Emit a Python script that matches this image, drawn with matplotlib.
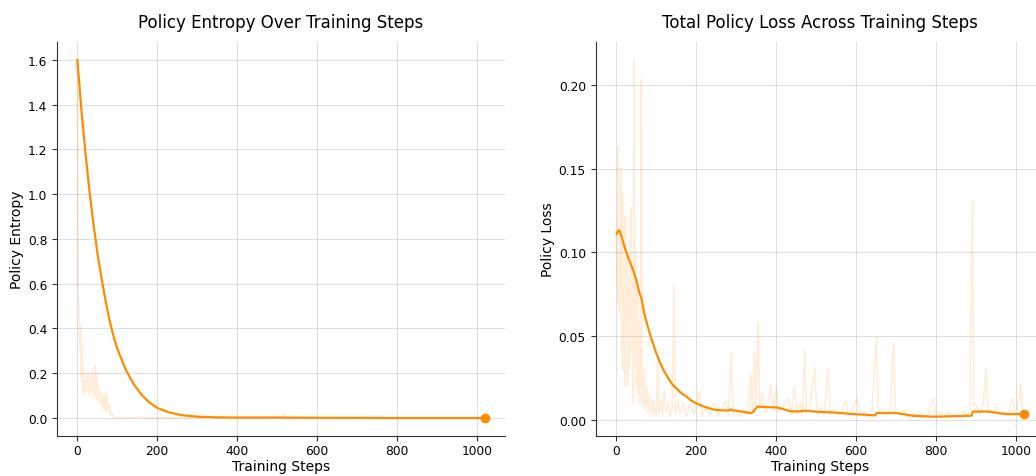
import matplotlib
matplotlib.use('Agg')
import matplotlib.pyplot as plt

# ---- policy entropy: raw (faint) and smoothed values ----
entropy_raw_steps = [0, 1, 2, 3, 4, 5, 6, 7, 8, 9, 10, 12, 14, 16, 18, 20, 22, 24, 26, 28,
                     30, 32, 34, 36, 38, 40, 42, 44, 46, 48, 50, 52, 54, 56, 58, 60, 62, 64,
                     66, 68, 70, 72, 74, 76, 78, 80, 82, 84, 86, 88, 90, 95, 100, 120, 160,
                     170, 200, 240, 280, 300, 350, 355, 400, 450, 515, 520, 525, 600, 700,
                     800, 900, 1020]
entropy_raw = [1.60, 0.95, 0.58, 0.55, 0.45, 0.42, 0.38, 0.30, 0.41, 0.25, 0.18, 0.32, 0.12,
               0.20, 0.10, 0.17, 0.12, 0.19, 0.14, 0.20, 0.10, 0.16, 0.13, 0.21, 0.12, 0.18,
               0.09, 0.23, 0.11, 0.20, 0.08, 0.15, 0.10, 0.12, 0.07, 0.09, 0.05, 0.10, 0.04,
               0.06, 0.11, 0.03, 0.10, 0.04, 0.05, 0.06, 0.02, 0.03, 0.01, 0.02, 0.005, 0.002,
               0.001, 0.001, 0.004, 0.0, 0.001, 0.002, 0.003, 0.001, 0.008, 0.001, 0.001,
               0.002, 0.006, 0.018, 0.002, 0.001, 0.0, 0.0, 0.0, 0.0]

entropy_smooth_steps = [0, 10, 20, 30, 40, 50, 60, 70, 80, 90, 100, 120, 140, 160, 180, 200,
                        230, 260, 300, 350, 400, 500, 600, 800, 1020]
entropy_smooth = [1.60, 1.38, 1.19, 1.02, 0.87, 0.74, 0.63, 0.53, 0.44, 0.37, 0.31, 0.22,
                  0.155, 0.105, 0.07, 0.045, 0.025, 0.013, 0.006, 0.003, 0.002, 0.002, 0.001,
                  0.0, 0.0]

# ---- total policy loss: raw (faint) and smoothed values ----
loss_raw_steps = [0, 2, 4, 5, 6, 8, 10, 12, 13, 15, 16, 18, 20, 22, 23, 25, 27, 29, 31, 33,
                  35, 37, 39, 41, 43, 45, 47, 49, 51, 53, 55, 57, 59, 61, 63, 65, 67, 70, 73,
                  76, 80, 84, 88, 92, 96, 100, 104, 107, 112, 116, 120, 125, 130, 135, 140,
                  145, 148, 155, 160, 168, 175, 185, 195, 208, 215, 225, 235, 245, 255, 265,
                  274, 280, 288, 292, 300, 310, 320, 330, 337, 341, 345, 349, 355, 359, 366,
                  372, 380, 387, 393, 401, 408, 418, 430, 437, 446, 452, 461, 466, 471, 476,
                  485, 497, 502, 512, 520, 530, 535, 545, 555, 565, 575, 580, 590, 604, 610,
                  620, 630, 640, 651, 656, 665, 675, 685, 694, 699, 710, 720, 730, 740, 750,
                  760, 770, 780, 794, 800, 810, 820, 830, 840, 850, 860, 870, 880, 885, 891,
                  895, 903, 910, 918, 925, 930, 940, 950, 960, 970, 980, 988, 993, 997, 1005,
                  1012, 1016, 1021]
loss_raw = [0.112, 0.09, 0.07, 0.163, 0.10, 0.065, 0.11, 0.150, 0.08, 0.04, 0.135, 0.03,
            0.09, 0.02, 0.122, 0.05, 0.10, 0.02, 0.08, 0.03, 0.11, 0.127, 0.04, 0.09, 0.01,
            0.215, 0.03, 0.10, 0.02, 0.08, 0.015, 0.06, 0.01, 0.05, 0.203, 0.02, 0.008, 0.03,
            0.006, 0.02, 0.004, 0.015, 0.003, 0.012, 0.005, 0.002, 0.035, 0.004, 0.012,
            0.003, 0.018, 0.004, 0.010, 0.002, 0.008, 0.080, 0.003, 0.012, 0.003, 0.010,
            0.002, 0.009, 0.003, 0.017, 0.002, 0.008, 0.003, 0.010, 0.002, 0.007, 0.011,
            0.002, 0.040, 0.003, 0.006, 0.002, 0.005, 0.003, 0.027, 0.005, 0.040, 0.008,
            0.058, 0.006, 0.016, 0.004, 0.010, 0.021, 0.005, 0.019, 0.004, 0.008, 0.013,
            0.003, 0.020, 0.004, 0.010, 0.003, 0.042, 0.004, 0.008, 0.031, 0.003, 0.007,
            0.002, 0.031, 0.004, 0.006, 0.002, 0.005, 0.012, 0.002, 0.006, 0.013, 0.002,
            0.005, 0.002, 0.006, 0.049, 0.004, 0.007, 0.002, 0.006, 0.046, 0.004, 0.003,
            0.006, 0.001, 0.004, 0.002, 0.005, 0.001, 0.004, 0.013, 0.002, 0.004, 0.001,
            0.005, 0.002, 0.004, 0.001, 0.005, 0.002, 0.006, 0.131, 0.005, 0.008, 0.003,
            0.010, 0.030, 0.006, 0.004, 0.008, 0.002, 0.005, 0.003, 0.010, 0.013, 0.004,
            0.009, 0.021, 0.005, 0.004]

loss_smooth_steps = [2, 5, 8, 12, 20, 30, 40, 46, 52, 58, 64, 70, 80, 90, 100, 110, 120, 130,
                     141, 150, 162, 175, 190, 204, 220, 245, 270, 283, 287, 292, 310, 337, 342,
                     353, 370, 403, 420, 436, 461, 474, 500, 549, 603, 648, 652, 698, 748, 798,
                     850, 889, 892, 927, 950, 973, 1000, 1021]
loss_smooth = [0.111, 0.113, 0.113, 0.111, 0.104, 0.097, 0.091, 0.087, 0.082, 0.076, 0.072,
               0.064, 0.055, 0.047, 0.040, 0.034, 0.029, 0.025, 0.021, 0.019, 0.016, 0.014,
               0.011, 0.0094, 0.0078, 0.0060, 0.0055, 0.0055, 0.0062, 0.0056, 0.0050, 0.0040,
               0.0045, 0.0078, 0.0076, 0.0073, 0.0062, 0.0050, 0.0050, 0.0054, 0.0048, 0.0042,
               0.0032, 0.0026, 0.0040, 0.0040, 0.0022, 0.0018, 0.0021, 0.0024, 0.0048, 0.0049,
               0.0042, 0.0034, 0.0033, 0.0036]

COLOR = '#ff8c00'

fig = plt.figure(figsize=(10.36, 4.77), dpi=100)
ax1 = fig.add_axes([0.055, 0.084, 0.4325, 0.826])
ax2 = fig.add_axes([0.575, 0.084, 0.4335, 0.826])


def _draw(ax, raw_x, raw_y, sm_x, sm_y, title, ylabel):
    """One training-curve panel: faint raw line, smoothed line, end marker."""
    ax.plot(raw_x, raw_y, color=COLOR, alpha=0.15, linewidth=1.2)
    ax.plot(sm_x, sm_y, color=COLOR, linewidth=1.6)
    ax.plot(sm_x[-1], sm_y[-1], 'o', color=COLOR, markersize=6)
    ax.set_title(title, fontsize=12, pad=11)
    ax.set_xlabel('Training Steps', fontsize=10, labelpad=1)
    ax.set_ylabel(ylabel, fontsize=10, labelpad=2.5)
    ax.tick_params(labelsize=8.8, length=3.5, color='#333333')
    ax.tick_params(axis='x', pad=2.5)
    ax.grid(True, color='#999999', alpha=0.3, linewidth=0.8)
    ax.spines['top'].set_visible(False)
    ax.spines['right'].set_visible(False)
    for side in ('left', 'bottom'):
        ax.spines[side].set_color('#333333')


_draw(ax1, entropy_raw_steps, entropy_raw, entropy_smooth_steps, entropy_smooth,
      'Policy Entropy Over Training Steps', 'Policy Entropy')
ax1.set_xticks([0, 200, 400, 600, 800, 1000])
ax1.set_yticks([0.0, 0.2, 0.4, 0.6, 0.8, 1.0, 1.2, 1.4, 1.6])

_draw(ax2, loss_raw_steps, loss_raw, loss_smooth_steps, loss_smooth,
      'Total Policy Loss Across Training Steps', 'Policy Loss')
ax2.set_xticks([0, 200, 400, 600, 800, 1000])
ax2.set_yticks([0.0, 0.05, 0.10, 0.15, 0.20])

fig.savefig('out.png', dpi=100)
plt.close(fig)
